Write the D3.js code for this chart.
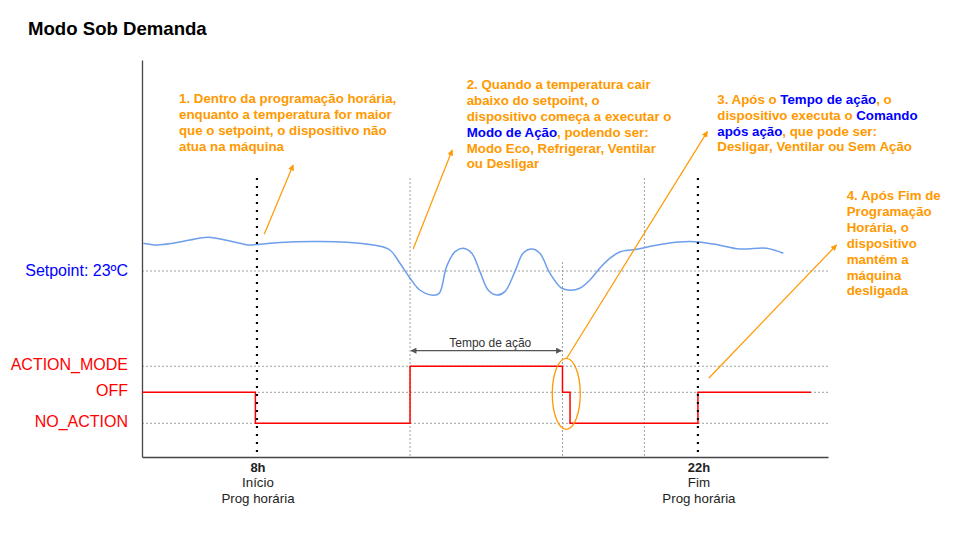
<!DOCTYPE html>
<html><head><meta charset="utf-8">
<script src="https://cdn.jsdelivr.net/npm/d3@7"></script>
<style>
body{margin:0;background:#fff;}
svg{display:block;font-family:"Liberation Sans",Arial,sans-serif;}
</style>
</head><body>
<svg id="c" width="960" height="540"></svg>
<script>
// ---------------- data ----------------
const chartTitle = "Modo Sob Demanda";
const setpoint = 23;
const setpointLabel = "Setpoint: 23ºC";
// temperature curve (hour of day, °C)
const tempHours  = [4.39, 4.82, 5.34, 5.87, 6.45, 7.14, 7.72, 8.00, 8.73, 9.79, 10.85, 11.80, 12.22, 12.54, 12.86, 13.17, 13.60, 13.79, 14.02, 14.29, 14.55, 14.82, 15.08, 15.34, 15.61, 15.87, 16.19, 16.45, 16.72, 16.98, 17.30, 17.67, 17.94, 18.25, 18.57, 18.89, 19.21, 19.52, 20.05, 20.90, 21.75, 22.49, 23.33, 24.18, 24.71];
const tempValues = [24.39, 24.30, 24.39, 24.55, 24.69, 24.50, 24.30, 24.32, 24.42, 24.47, 24.44, 24.27, 24.05, 23.39, 22.64, 22.05, 21.79, 21.89, 23.22, 23.97, 24.14, 23.89, 22.97, 22.05, 21.80, 21.97, 22.97, 23.89, 24.10, 23.89, 22.89, 22.14, 22.04, 22.14, 22.55, 23.15, 23.64, 23.95, 24.09, 24.35, 24.47, 24.35, 24.10, 24.14, 23.89];
// device state (step series)
const states      = ["NO_ACTION", "OFF", "ACTION_MODE"];
const stateLevels = [0, 1, 1.84];
const stepHours   = [4.35, 7.95, 12.86, 17.70, 17.94, 22.00, 25.59];
const stepStates  = ["OFF", "NO_ACTION", "ACTION_MODE", "OFF", "NO_ACTION", "OFF", "OFF"];
// schedule (x ticks)
const progHours  = [8, 22];
const progLabels = ["8h", "22h"];
const progSub1   = ["Início", "Fim"];
const progSub2   = ["Prog horária", "Prog horária"];
const progTopTemp = 27.65;
// event reference lines
const eventHours    = [12.86, 17.70, 20.30];
const eventTopTemps = [27.65, 23.45, 27.65];
const actionStart = 12.86, actionEnd = 17.70;
const actionLabel = "Tempo de ação";
// annotation arrows (hour, °C) -> (hour, °C)
const arrowFromH = [8.23, 12.96, 17.84, 22.35];
const arrowFromT = [24.84, 24.10, 18.65, 17.65];
const arrowToH   = [9.15, 14.20, 22.30, 26.40];
const arrowToT   = [28.30, 29.05, 29.97, 24.30];
const ellipseH = 17.82, ellipseT = 16.86;
// annotation texts ({...} = highlighted)
const note1 = ["1. Dentro da programação horária,", "enquanto a temperatura for maior", "que o setpoint, o dispositivo não", "atua na máquina"];
const note2 = ["2. Quando a temperatura cair", "abaixo do setpoint, o", "dispositivo começa a executar o", "{Modo de Ação}, podendo ser:", "Modo Eco, Refrigerar, Ventilar", "ou Desligar"];
const note3 = ["3. Após o {Tempo de ação}, o", "dispositivo executa o {Comando", "após ação}, que pode ser:", "Desligar, Ventilar ou Sem Ação"];
const note4 = ["4. Após Fim de", "Programação", "Horária, o", "dispositivo", "mantém a", "máquina", "desligada"];
const xMin = 4.35, xMax = 26.13;
const tMin = 13.7, tMax = 33.55;

// ---------------- layout ----------------
const L = 142, R = 828, T = 60, B = 457;
const ORANGE = "#ff9900", BLUE = "#0000ff", RED = "#ff0000", GRID = "#9e9e9e";

const svg = d3.select("#c");
const x  = d3.scaleLinear().domain([xMin, xMax]).range([L, R]);
const yT = d3.scaleLinear().domain([tMin, tMax]).range([B, T]);
const yS = d3.scaleLinear().domain([0, 1]).range([423.3, 392.3]);
const levelOf = s => stateLevels[states.indexOf(s)];

const defs = svg.append("defs");
defs.append("marker").attr("id", "ao").attr("viewBox", "0 0 10 10")
  .attr("refX", 9).attr("refY", 5).attr("markerWidth", 6).attr("markerHeight", 6)
  .attr("markerUnits", "userSpaceOnUse").attr("orient", "auto")
  .append("path").attr("d", "M0,0L10,5L0,10z").attr("fill", ORANGE);
defs.append("marker").attr("id", "ag").attr("viewBox", "0 0 10 10")
  .attr("refX", 9).attr("refY", 5).attr("markerWidth", 7).attr("markerHeight", 6)
  .attr("markerUnits", "userSpaceOnUse").attr("orient", "auto-start-reverse")
  .append("path").attr("d", "M0,0L10,5L0,10z").attr("fill", "#555");

// title
svg.append("text").attr("x", 28).attr("y", 35).attr("font-size", 18.6)
  .attr("font-weight", "bold").attr("fill", "#000").text(chartTitle);

// horizontal grid lines
const hLines = [yT(setpoint)].concat(stateLevels.map(v => yS(v)));
svg.append("g").selectAll("line").data(hLines).join("line")
  .attr("x1", x(xMin)).attr("x2", x(xMax)).attr("y1", d => d).attr("y2", d => d)
  .attr("stroke", GRID).attr("stroke-width", 1).attr("stroke-dasharray", "2,2");

// event vertical lines
svg.append("g").selectAll("line").data(eventHours).join("line")
  .attr("x1", d => x(d)).attr("x2", d => x(d))
  .attr("y1", (d, i) => yT(eventTopTemps[i])).attr("y2", yT(tMin))
  .attr("stroke", GRID).attr("stroke-width", 1).attr("stroke-dasharray", "2,2");

// axes
svg.append("g").attr("transform", `translate(0,${B})`)
  .call(d3.axisBottom(x).tickValues([]).tickSizeOuter(0))
  .call(g => g.select(".domain").attr("stroke", "#444").attr("stroke-width", 1.3));
svg.append("g").attr("transform", `translate(${L},0)`)
  .call(d3.axisLeft(yT).tickValues([]).tickSizeOuter(0))
  .call(g => g.select(".domain").attr("stroke", "#444").attr("stroke-width", 1.3));

// temperature curve
const tempData = tempHours.map((h, i) => ({h, t: tempValues[i]}));
svg.append("path").datum(tempData)
  .attr("d", d3.line().x(d => x(d.h)).y(d => yT(d.t)).curve(d3.curveCatmullRom))
  .attr("fill", "none").attr("stroke", "#6d9eeb").attr("stroke-width", 1.5);

// state step line
const stepData = stepHours.map((h, i) => ({h, s: stepStates[i]}));
svg.append("path").datum(stepData)
  .attr("d", d3.line().x(d => x(d.h)).y(d => yS(levelOf(d.s))).curve(d3.curveStepAfter))
  .attr("fill", "none").attr("stroke", RED).attr("stroke-width", 1.5);

// schedule dotted lines
svg.append("g").selectAll("line").data(progHours).join("line")
  .attr("x1", d => x(d)).attr("x2", d => x(d))
  .attr("y1", yT(progTopTemp)).attr("y2", yT(tMin))
  .attr("stroke", "#000").attr("stroke-width", 2.2)
  .attr("stroke-dasharray", "2,6");

// y labels
const yLab = svg.append("g").attr("font-size", 16).attr("text-anchor", "end");
yLab.append("text").attr("x", 128).attr("y", yT(setpoint) + 5).attr("fill", BLUE).text(setpointLabel);
yLab.selectAll("text.s").data(states).join("text").attr("class", "s")
  .attr("x", 128).attr("y", (d, i) => yS(stateLevels[i]) + 4)
  .attr("fill", RED).text(d => d);

// x tick labels
const xl = svg.append("g").attr("text-anchor", "middle").attr("fill", "#222");
progHours.forEach((h, i) => {
  xl.append("text").attr("x", x(h) + 1).attr("y", B + 15).attr("font-size", 13)
    .attr("font-weight", "bold").text(progLabels[i]);
  xl.append("text").attr("x", x(h) + 1).attr("y", B + 30).attr("font-size", 13.3).text(progSub1[i]);
  xl.append("text").attr("x", x(h) + 1).attr("y", B + 46).attr("font-size", 13.3).text(progSub2[i]);
});

// action-time double arrow
const ay = 350.7;
svg.append("line").attr("x1", x(actionStart) + 1).attr("x2", x(actionEnd) - 1)
  .attr("y1", ay).attr("y2", ay).attr("stroke", "#555").attr("stroke-width", 1.2)
  .attr("marker-start", "url(#ag)").attr("marker-end", "url(#ag)");
svg.append("text").attr("x", (x(actionStart) + x(actionEnd)) / 2 + 4).attr("y", ay - 4)
  .attr("text-anchor", "middle").attr("font-size", 12).attr("fill", "#333").text(actionLabel);

// ellipse highlight
svg.append("ellipse").attr("cx", x(ellipseH)).attr("cy", yT(ellipseT))
  .attr("rx", 14).attr("ry", 35.5).attr("fill", "none").attr("stroke", ORANGE).attr("stroke-width", 1.3);

// annotation arrows
svg.append("g").selectAll("line").data(arrowFromH).join("line")
  .attr("x1", (d, i) => x(d)).attr("y1", (d, i) => yT(arrowFromT[i]))
  .attr("x2", (d, i) => x(arrowToH[i])).attr("y2", (d, i) => yT(arrowToT[i]))
  .attr("stroke", ORANGE).attr("stroke-width", 1.2).attr("marker-end", "url(#ao)");

// annotation texts
function note(lines, x0, y0, lh) {
  const t = svg.append("text").attr("font-size", 13.3).attr("font-weight", "bold");
  let blue = false;
  lines.forEach((ln, i) => {
    const parts = ln.split(/([{}])/);
    let first = true;
    parts.forEach(p => {
      if (p === "{") { blue = true; return; }
      if (p === "}") { blue = false; return; }
      if (p === "") return;
      const ts = t.append("tspan").attr("fill", blue ? BLUE : ORANGE).text(p);
      if (first) { ts.attr("x", x0).attr("y", y0 + i * lh); first = false; }
    });
  });
}
note(note1, 179, 103, 16);
note(note2, 466.7, 89.3, 15.8);
note(note3, 717.3, 104, 15.8);
note(note4, 846.7, 200, 15.9);
</script>
</body></html>
